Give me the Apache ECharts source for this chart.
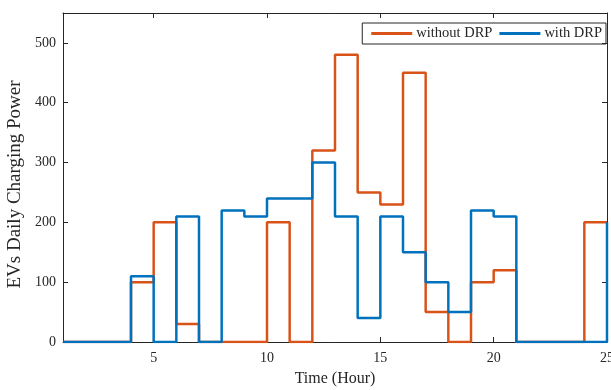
<!DOCTYPE html>
<html>
<head>
<meta charset="utf-8">
<script src="https://cdn.jsdelivr.net/npm/echarts@6/dist/echarts.min.js"></script>
<style>html,body{margin:0;padding:0;background:#fff;}#c{width:611px;height:390px;}</style>
</head>
<body>
<div id="c"></div>
<script>
// Hours (stairs start points)
var hours = [1,2,3,4,5,6,7,8,9,10,11,12,13,14,15,16,17,18,19,20,21,22,23,24,25];
var withoutDRP = [0,0,0,100,200,30,0,0,0,200,0,320,480,250,230,450,50,0,100,120,0,0,0,200,200];
var withDRP    = [0,0,0,110,0,210,0,220,210,240,240,300,210,40,210,150,100,50,220,210,0,0,0,0,200];
var xTicks = [5,10,15,20,25];
var yTicks = [0,100,200,300,400,500];

function pairs(xs, ys){ return xs.map(function(x,i){return [x, ys[i]];}); }

var serif = '"Liberation Serif", "Times New Roman", serif';
var axisCol = '#262626';

function xAx(pos, showLabel){
  return {
    type:'value', position:pos, min:1, max:25,
    axisLine:{show:true, onZero:false, lineStyle:{color:axisCol, width:1}},
    axisTick:{show:true, inside:true, length:5, customValues:xTicks, lineStyle:{color:axisCol}},
    axisLabel:{show:showLabel, customValues:xTicks, color:axisCol, fontFamily:serif, fontSize:14, margin:9,
               hideOverlap:false},
    splitLine:{show:false},
    name: showLabel ? 'Time (Hour)' : '', nameLocation:'middle', nameGap:29,
    nameTextStyle:{color:axisCol, fontFamily:serif, fontSize:16}
  };
}
function yAx(pos, showLabel){
  return {
    type:'value', position:pos, min:0, max:550,
    axisLine:{show:true, onZero:false, lineStyle:{color:axisCol, width:1}},
    axisTick:{show:true, inside:true, length:5, customValues:yTicks, lineStyle:{color:axisCol}},
    axisLabel:{show:showLabel, customValues:yTicks, color:axisCol, fontFamily:serif, fontSize:14, margin:7},
    splitLine:{show:false},
    name: showLabel ? 'EVs Daily Charging Power' : '', nameLocation:'middle', nameGap:35,
    nameTextStyle:{color:axisCol, fontFamily:serif, fontSize:19, padding:[0,14,0,0]}
  };
}

var chart = echarts.init(document.getElementById('c'), null, {renderer:'canvas'});
chart.setOption({
  animation:false,
  backgroundColor:'#fff',
  grid:{left:63, right:4, top:13, bottom:48, containLabel:false, outerBoundsMode:'none'},
  xAxis:[xAx('bottom', true), xAx('top', false)],
  yAxis:[yAx('left', true), yAx('right', false)],
  legend:{
    right:5, top:23, orient:'horizontal',
    itemWidth:41, itemHeight:3, itemGap:7,
    borderColor:'#262626', borderWidth:1, padding:[3,4,3,9],
    textStyle:{fontFamily:serif, fontSize:14.5, color:axisCol, padding:[0,0,0,-1]},
    data:[{name:'without DRP', icon:'rect'},{name:'with DRP', icon:'rect'}]
  },
  series:[
    {name:'without DRP', type:'line', step:'end', symbol:'none', showSymbol:false,
     data:pairs(hours, withoutDRP), lineStyle:{color:'#D95319', width:2.5}, itemStyle:{color:'#D95319'}},
    {name:'with DRP', type:'line', step:'end', symbol:'none', showSymbol:false,
     data:pairs(hours, withDRP), lineStyle:{color:'#0072BD', width:2.5}, itemStyle:{color:'#0072BD'}}
  ]
});
</script>
</body>
</html>
